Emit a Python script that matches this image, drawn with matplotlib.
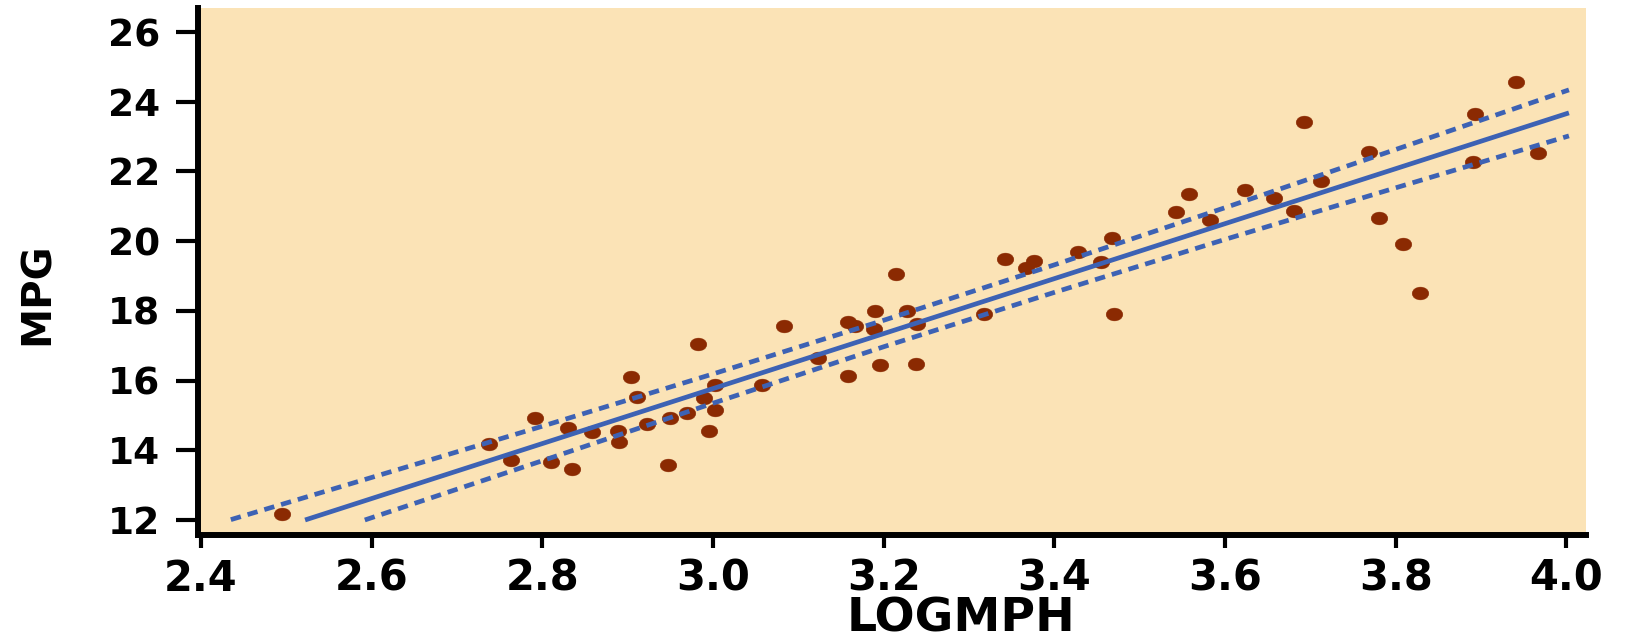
import numpy as np
import matplotlib
matplotlib.use("Agg")
import matplotlib.pyplot as plt
from matplotlib.path import Path
from matplotlib.transforms import Affine2D

# ---- data ----
logmph = [2.495, 2.737, 2.763, 2.792, 2.810, 2.830, 2.835, 2.858, 2.889, 2.890,
          2.904, 2.911, 2.923, 2.947, 2.950, 2.970, 2.983, 2.989, 2.995, 3.002,
          3.002, 3.057, 3.083, 3.123, 3.158, 3.158, 3.166, 3.189, 3.190, 3.196,
          3.215, 3.227, 3.239, 3.238, 3.317, 3.342, 3.367, 3.376, 3.428, 3.455,
          3.467, 3.470, 3.543, 3.558, 3.582, 3.624, 3.657, 3.681, 3.693, 3.712,
          3.769, 3.780, 3.809, 3.828, 3.893, 3.891, 3.941, 3.967]
mpg = [12.18, 14.17, 13.73, 14.92, 13.67, 14.65, 13.46, 14.53, 14.56, 14.23,
       16.11, 15.54, 14.74, 13.58, 14.92, 15.07, 17.06, 15.51, 14.56, 15.87,
       15.16, 15.87, 17.57, 16.65, 17.69, 16.14, 17.57, 17.48, 17.99, 16.44,
       19.06, 17.99, 17.63, 16.47, 17.90, 19.48, 19.24, 19.42, 19.68, 19.39,
       20.10, 17.92, 20.85, 21.35, 20.62, 21.46, 21.25, 20.87, 23.42, 21.74,
       22.56, 20.66, 19.93, 18.52, 23.66, 22.27, 24.56, 22.52]

fit_x = [2.522, 4.003]
fit_y = [12.00, 23.68]
upper_x = [2.435, 2.6, 2.8, 3.0, 3.2, 3.4, 3.6, 3.8, 4.003]
upper_y = [12.01, 13.22, 14.69, 16.19, 17.73, 19.32, 20.96, 22.63, 24.34]
lower_x = [2.592, 2.8, 3.0, 3.2, 3.4, 3.6, 3.8, 4.003]
lower_y = [12.00, 13.70, 15.35, 16.97, 18.53, 20.05, 21.53, 23.02]

xticks = [2.4, 2.6, 2.8, 3.0, 3.2, 3.4, 3.6, 3.8, 4.0]
xticklabels = ["2.4", "2.6", "2.8", "3.0", "3.2", "3.4", "3.6", "3.8", "4.0"]
yticks = [12, 14, 16, 18, 20, 22, 24, 26]
yticklabels = ["12", "14", "16", "18", "20", "22", "24", "26"]

# ---- style ----
BG = "#FBE3B6"
DOT = "#8B2A02"
BLUE = "#3D62B4"
FONT = "DejaVu Sans"

fig = plt.figure(figsize=(16.30, 6.44), dpi=100)
ax = fig.add_axes([0.1212, 0.1693, 0.8518, 0.8183])
ax.set_facecolor(BG)

# wide elliptical dot marker (the reference is stretched horizontally)
circ = Path.unit_circle()
ellipse = Affine2D().scale(1.3, 1.0).transform_path(circ)

ax.plot(logmph, mpg, linestyle="none", marker=ellipse, markersize=12,
        markerfacecolor=DOT, markeredgecolor=DOT, markeredgewidth=0.3, zorder=2)

ax.plot(fit_x, fit_y, color=BLUE, lw=3.4, solid_capstyle="butt", zorder=3)
ax.plot(upper_x, upper_y, color=BLUE, lw=3.4, dashes=(2.2, 1.5),
        dash_capstyle="butt", zorder=3)
ax.plot(lower_x, lower_y, color=BLUE, lw=3.4, dashes=(2.2, 1.5),
        dash_capstyle="butt", zorder=3)

ax.set_xlim(2.396, 4.023)
ax.set_ylim(11.57, 26.69)

for s in ["top", "right"]:
    ax.spines[s].set_visible(False)
for s in ["left", "bottom"]:
    ax.spines[s].set_linewidth(4.3)
    ax.spines[s].set_color("black")
    ax.spines[s].set_capstyle("projecting")

ax.set_xticks(xticks)
ax.set_xticklabels(xticklabels, fontsize=30, fontweight="bold", family=FONT)
ax.set_yticks(yticks)
ax.set_yticklabels(yticklabels, fontsize=27, fontweight="bold", family=FONT)
ax.tick_params(axis="y", length=16, width=3.0, pad=11, color="black")
ax.tick_params(axis="x", length=9.5, width=3.0, pad=7, color="black")

ax.set_xlabel("LOGMPH", fontsize=34, fontweight="bold", family=FONT)
ax.xaxis.label.set_va("baseline")
ax.xaxis.set_label_coords(0.55, -0.184)

ax.set_ylabel("MPG", fontsize=29, fontweight="bold", family=FONT)
ax.yaxis.label.set_va("center")
ax.yaxis.set_label_coords(-0.1153, 0.457)

fig.savefig("out.png", dpi=100, facecolor="white")
